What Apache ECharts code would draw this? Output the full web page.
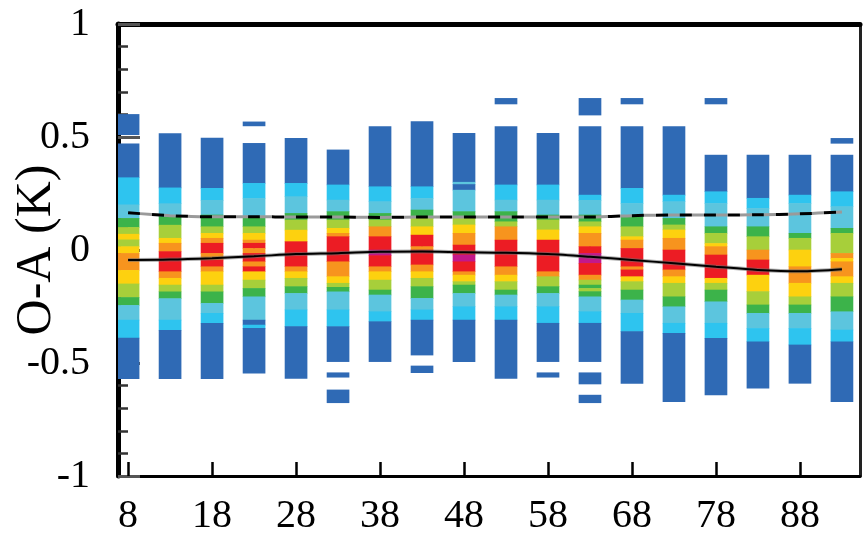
<!DOCTYPE html>
<html>
<head>
<meta charset="utf-8">
<script src="https://cdn.jsdelivr.net/npm/echarts@6/dist/echarts.min.js"></script>
<style>
  html, body { margin: 0; padding: 0; background: #fff; }
  #chart { width: 864px; height: 537px; }
</style>
</head>
<body>
<div id="chart"></div>
<script>
// Bin centres along the x axis
const binCentres = [8, 13, 18, 23, 28, 33, 38, 43, 48, 53, 58, 63, 68, 73, 78, 83, 88, 93];
const xTickLabels = [8, 18, 28, 38, 48, 58, 68, 78, 88];
const xMinorTicks = [13, 23, 33, 43, 53, 63, 73, 83, 93];

// Density level colours (1 = lowest, 9 = highest)
const levelColours = ['#ffffff', '#2f6ab5', '#2ec4ef', '#5cc5de', '#3cb34a', '#a7cf3a', '#fdd10f', '#f7941e', '#ec1c24', '#c3188a'];

// Density bands for each bin: [upper O-A, lower O-A, level]
const bandsAt8 = [[0.60,0.51,1],[0.47,0.32,1],[0.32,0.20,2],[0.20,0.14,3],[0.14,0.10,4],[0.10,0.07,5],[0.07,0.045,6],[0.045,0.015,5],[0.015,-0.015,6],[-0.015,-0.09,7],[-0.09,-0.15,6],[-0.15,-0.21,5],[-0.21,-0.245,4],[-0.245,-0.31,3],[-0.31,-0.39,2],[-0.39,-0.57,1]];
const bandsAt13 = [[0.515,0.275,1],[0.275,0.205,2],[0.205,0.147,3],[0.147,0.11,4],[0.11,0.052,5],[0.052,0.03,6],[0.03,-0.007,7],[-0.007,-0.096,8],[-0.096,-0.125,7],[-0.125,-0.155,6],[-0.155,-0.185,5],[-0.185,-0.215,4],[-0.215,-0.31,3],[-0.31,-0.355,2],[-0.355,-0.57,1]];
const bandsAt18 = [[0.495,0.273,1],[0.273,0.22,2],[0.22,0.155,3],[0.155,0.103,4],[0.103,0.074,5],[0.074,0.052,6],[0.052,0.03,7],[0.03,-0.015,8],[-0.015,-0.044,7],[-0.044,-0.074,8],[-0.074,-0.096,7],[-0.096,-0.155,6],[-0.155,-0.185,5],[-0.185,-0.236,4],[-0.236,-0.28,3],[-0.28,-0.324,2],[-0.324,-0.57,1]];
const bandsAt23 = [[0.567,0.549,1],[0.472,0.295,1],[0.295,0.228,2],[0.228,0.147,3],[0.147,0.103,4],[0.103,0.074,5],[0.074,0.044,6],[0.044,0.03,7],[0.03,0.007,8],[0.007,-0.015,7],[-0.015,-0.052,8],[-0.052,-0.074,7],[-0.074,-0.096,8],[-0.096,-0.133,6],[-0.133,-0.17,5],[-0.17,-0.207,4],[-0.207,-0.31,3],[-0.31,-0.332,1],[-0.332,-0.347,2],[-0.347,-0.545,1]];
const bandsAt28 = [[0.494,0.295,1],[0.295,0.236,2],[0.236,0.162,3],[0.162,0.133,4],[0.133,0.088,5],[0.088,0.037,6],[0.037,-0.074,8],[-0.074,-0.096,7],[-0.096,-0.125,6],[-0.125,-0.162,5],[-0.162,-0.192,4],[-0.192,-0.265,3],[-0.265,-0.339,2],[-0.339,-0.568,1]];
const bandsAt33 = [[0.443,0.288,1],[0.288,0.221,2],[0.221,0.17,3],[0.17,0.133,4],[0.133,0.096,5],[0.096,0.074,6],[0.074,0.059,7],[0.059,-0.052,8],[-0.052,-0.118,7],[-0.118,-0.147,6],[-0.147,-0.165,5],[-0.165,-0.185,4],[-0.185,-0.265,3],[-0.265,-0.339,2],[-0.339,-0.494,1],[-0.543,-0.563,1],[-0.619,-0.676,1]];
const bandsAt38 = [[0.546,0.28,1],[0.28,0.214,2],[0.214,0.162,3],[0.162,0.133,4],[0.133,0.103,5],[0.103,0.059,7],[0.059,0.0,8],[0.0,-0.025,9],[-0.025,-0.074,8],[-0.074,-0.096,7],[-0.096,-0.133,6],[-0.133,-0.177,5],[-0.177,-0.199,4],[-0.199,-0.273,3],[-0.273,-0.317,2],[-0.317,-0.494,1]];
const bandsAt43 = [[0.568,0.28,1],[0.28,0.228,2],[0.228,0.177,3],[0.177,0.14,4],[0.14,0.103,5],[0.103,0.066,6],[0.066,0.015,8],[0.015,0.0,7],[0.0,-0.066,8],[-0.066,-0.096,7],[-0.096,-0.125,6],[-0.125,-0.162,5],[-0.162,-0.214,4],[-0.214,-0.265,3],[-0.265,-0.31,2],[-0.31,-0.465,1],[-0.513,-0.543,1]];
const bandsAt48 = [[0.516,0.30,1],[0.30,0.29,3],[0.29,0.265,1],[0.265,0.17,3],[0.17,0.14,4],[0.14,0.111,5],[0.111,0.074,6],[0.074,0.022,7],[0.022,-0.022,8],[-0.022,-0.052,9],[-0.052,-0.096,8],[-0.096,-0.111,7],[-0.111,-0.14,6],[-0.14,-0.155,5],[-0.155,-0.192,4],[-0.192,-0.251,3],[-0.251,-0.31,2],[-0.31,-0.494,1]];
const bandsAt53 = [[0.671,0.646,1],[0.546,0.288,1],[0.288,0.221,2],[0.221,0.17,3],[0.17,0.125,4],[0.125,0.103,5],[0.103,0.044,7],[0.044,-0.074,8],[-0.074,-0.111,7],[-0.111,-0.14,6],[-0.14,-0.177,5],[-0.177,-0.199,4],[-0.199,-0.251,3],[-0.251,-0.31,2],[-0.31,-0.568,1]];
const bandsAt58 = [[0.516,0.288,1],[0.288,0.221,2],[0.221,0.155,3],[0.155,0.133,4],[0.133,0.089,5],[0.089,0.044,6],[0.044,-0.096,8],[-0.096,-0.118,7],[-0.118,-0.162,5],[-0.162,-0.192,4],[-0.192,-0.251,3],[-0.251,-0.324,2],[-0.324,-0.494,1],[-0.543,-0.563,1]];
const bandsAt63 = [[0.671,0.597,1],[0.546,0.243,1],[0.243,0.22,2],[0.22,0.155,3],[0.155,0.125,4],[0.125,0.103,5],[0.103,0.074,6],[0.074,0.015,7],[0.015,-0.015,8],[-0.015,-0.059,9],[-0.059,-0.111,8],[-0.111,-0.133,7],[-0.133,-0.155,5],[-0.155,-0.17,4],[-0.17,-0.184,5],[-0.184,-0.207,4],[-0.207,-0.273,3],[-0.273,-0.324,2],[-0.324,-0.494,1],[-0.543,-0.593,1],[-0.642,-0.676,1]];
const bandsAt68 = [[0.671,0.646,1],[0.546,0.273,1],[0.273,0.206,2],[0.206,0.147,3],[0.147,0.103,4],[0.103,0.059,5],[0.059,0.044,6],[0.044,0.007,7],[0.007,-0.074,8],[-0.074,-0.088,7],[-0.088,-0.118,8],[-0.118,-0.14,6],[-0.14,-0.177,5],[-0.177,-0.221,4],[-0.221,-0.28,3],[-0.28,-0.361,2],[-0.361,-0.59,1]];
const bandsAt73 = [[0.546,0.243,1],[0.243,0.214,2],[0.214,0.14,3],[0.14,0.111,4],[0.111,0.089,5],[0.089,0.052,6],[0.052,0.0,7],[0.0,-0.088,8],[-0.088,-0.118,7],[-0.118,-0.147,6],[-0.147,-0.207,5],[-0.207,-0.251,4],[-0.251,-0.324,3],[-0.324,-0.369,2],[-0.369,-0.671,1]];
const bandsAt78 = [[0.671,0.646,1],[0.42,0.258,1],[0.258,0.206,2],[0.206,0.103,3],[0.103,0.074,4],[0.074,0.029,5],[0.029,0.015,6],[0.015,-0.022,7],[-0.022,-0.125,8],[-0.125,-0.147,6],[-0.147,-0.177,5],[-0.177,-0.229,4],[-0.229,-0.324,3],[-0.324,-0.391,2],[-0.391,-0.641,1]];
const bandsAt83 = [[0.42,0.229,1],[0.229,0.184,2],[0.184,0.103,3],[0.103,0.059,4],[0.059,0.0,5],[0.0,-0.044,7],[-0.044,-0.111,8],[-0.111,-0.184,6],[-0.184,-0.243,5],[-0.243,-0.28,4],[-0.28,-0.347,3],[-0.347,-0.406,2],[-0.406,-0.612,1]];
const bandsAt88 = [[0.42,0.243,1],[0.243,0.206,2],[0.206,0.074,3],[0.074,0.052,4],[0.052,0.0,5],[0.0,-0.074,6],[-0.074,-0.147,7],[-0.147,-0.207,6],[-0.207,-0.243,5],[-0.243,-0.28,4],[-0.28,-0.347,3],[-0.347,-0.42,2],[-0.42,-0.59,1]];
const bandsAt93 = [[0.494,0.472,1],[0.42,0.258,1],[0.258,0.192,2],[0.192,0.096,3],[0.096,0.074,4],[0.074,-0.015,5],[-0.015,-0.037,7],[-0.037,-0.052,6],[-0.052,-0.118,7],[-0.118,-0.147,6],[-0.147,-0.207,5],[-0.207,-0.273,4],[-0.273,-0.354,3],[-0.354,-0.406,2],[-0.406,-0.671,1]];

const bandsPerBin = [bandsAt8, bandsAt13, bandsAt18, bandsAt23, bandsAt28, bandsAt33, bandsAt38, bandsAt43, bandsAt48,
  bandsAt53, bandsAt58, bandsAt63, bandsAt68, bandsAt73, bandsAt78, bandsAt83, bandsAt88, bandsAt93];

// Mean O-A (solid) and spread (dashed) per bin
const meanOA = [-0.044, -0.042, -0.036, -0.028, -0.018, -0.014, -0.008, -0.007, -0.010, -0.012, -0.018, -0.030, -0.044, -0.059, -0.074, -0.088, -0.094, -0.085];
const spreadOA = [0.165, 0.152, 0.147, 0.147, 0.146, 0.146, 0.144, 0.146, 0.146, 0.146, 0.146, 0.146, 0.152, 0.155, 0.155, 0.156, 0.160, 0.168];

const BIN_HALF_WIDTH = 1.35;

const cellData = [];
binCentres.forEach((x, i) => {
  bandsPerBin[i].forEach(b => cellData.push([x, b[0], b[1], b[2]]));
});
const meanData = binCentres.map((x, i) => [x, meanOA[i]]);
const spreadData = binCentres.map((x, i) => [x, spreadOA[i]]);

const serif = 'Liberation Serif, Times New Roman, serif';
const chart = echarts.init(document.getElementById('chart'), null, { renderer: 'canvas' });

const xRange = { min: 6.8, max: 95.15 };

chart.setOption({
  animation: false,
  backgroundColor: '#ffffff',
  grid: { left: 118, top: 24, width: 742, height: 452, containLabel: false, outerBoundsMode: 'none' },
  xAxis: [
    {
      type: 'value', ...xRange, position: 'bottom',
      axisLine: { show: true, onZero: false, lineStyle: { color: '#000', width: 3 } },
      axisTick: { show: true, inside: true, length: 14, customValues: xTickLabels, lineStyle: { color: '#000', width: 2.5 } },
      axisLabel: { customValues: xTickLabels, fontFamily: serif, fontSize: 40, color: '#000', margin: 20 },
      splitLine: { show: false }
    },
    {
      type: 'value', ...xRange, position: 'bottom',
      axisLine: { show: false },
      axisTick: { show: true, inside: true, length: 8, customValues: xMinorTicks, lineStyle: { color: '#222', width: 2 } },
      axisLabel: { show: false },
      splitLine: { show: false }
    },
    {
      type: 'value', ...xRange, position: 'top',
      axisLine: { show: true, onZero: false, lineStyle: { color: '#000', width: 5 } },
      axisTick: { show: false }, axisLabel: { show: false }, splitLine: { show: false }
    }
  ],
  yAxis: [
    {
      type: 'value', min: -1, max: 1, interval: 0.5, position: 'left',
      name: 'O-A (K)', nameLocation: 'middle', nameGap: 56, nameRotate: 90, nameMoveOverlap: false,
      nameTextStyle: { fontFamily: serif, fontSize: 50, color: '#000' },
      axisLine: { show: true, onZero: false, lineStyle: { color: '#000', width: 5 } },
      axisTick: { show: true, inside: true, length: 22, lineStyle: { color: '#555', width: 3 } },
      minorTick: { show: true, splitNumber: 5, length: 10, lineStyle: { color: '#333', width: 2.5 } },
      axisLabel: { fontFamily: serif, fontSize: 40, color: '#000', margin: 28, formatter: v => String(v) },
      splitLine: { show: false }
    },
    {
      type: 'value', min: -1, max: 1, position: 'right',
      axisLine: { show: true, onZero: false, lineStyle: { color: '#222', width: 3 } },
      axisTick: { show: false }, axisLabel: { show: false }, splitLine: { show: false }
    }
  ],
  series: [
    {
      type: 'custom',
      xAxisIndex: 0, yAxisIndex: 0,
      data: cellData,
      encode: { x: 0, y: [1, 2] },
      clip: true,
      renderItem: function (params, api) {
        const x = api.value(0);
        const top = api.coord([x - BIN_HALF_WIDTH, api.value(1)]);
        const bottom = api.coord([x + BIN_HALF_WIDTH, api.value(2)]);
        const shape = echarts.graphic.clipRectByRect(
          { x: top[0], y: top[1] - 0.3, width: bottom[0] - top[0], height: bottom[1] - top[1] + 0.6 },
          { x: params.coordSys.x, y: params.coordSys.y, width: params.coordSys.width, height: params.coordSys.height }
        );
        return shape && {
          type: 'rect',
          shape: shape,
          style: { fill: levelColours[api.value(3)] }
        };
      },
      z: 2
    },
    {
      type: 'line', data: spreadData, symbol: 'none', smooth: 0.3, z: 3,
      lineStyle: { color: '#9a9a9a', width: 3, type: [12, 12], dashOffset: 12 }
    },
    {
      type: 'line', data: spreadData, symbol: 'none', smooth: 0.3, z: 4,
      lineStyle: { color: '#000', width: 3, type: [12, 12] }
    },
    {
      type: 'line', data: meanData, symbol: 'none', smooth: 0.3, z: 3,
      lineStyle: { color: 'rgba(110,110,110,0.55)', width: 4 }
    },
    {
      type: 'line', data: meanData, symbol: 'none', smooth: 0.3, z: 4,
      lineStyle: { color: '#000', width: 2 }
    }
  ]
});
</script>
</body>
</html>
